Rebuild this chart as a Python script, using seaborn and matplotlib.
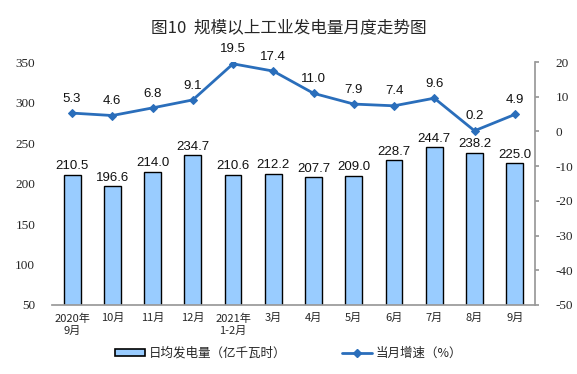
import matplotlib
matplotlib.use("Agg")
import matplotlib.pyplot as plt
import seaborn as sns
import numpy as np
import pandas as pd
from matplotlib.patches import Patch
from matplotlib.lines import Line2D

sns.set_theme(style="white")
plt.rcParams['font.family'] = ['Liberation Serif', 'Noto Sans CJK SC', 'DejaVu Sans']
plt.rcParams['axes.unicode_minus'] = False

categories = ["2020年\n9月", "10月", "11月", "12月", "2021年\n1-2月", "3月", "4月", "5月", "6月", "7月", "8月", "9月"]
output_daily = [210.5, 196.6, 214.0, 234.7, 210.6, 212.2, 207.7, 209.0, 228.7, 244.7, 238.2, 225.0]
growth = [5.3, 4.6, 6.8, 9.1, 19.5, 17.4, 11.0, 7.9, 7.4, 9.6, 0.2, 4.9]
title = "图10  规模以上工业发电量月度走势图"
bar_label = "日均发电量（亿千瓦时）"
line_label = "当月增速（%）"

df = pd.DataFrame({"cat": categories, "val": output_daily, "g": growth})

bar_color = "#99CCFF"
line_color = "#2A6EBB"
cjk = ['Noto Sans CJK SC', 'DejaVu Sans']
sans = ['Liberation Sans', 'DejaVu Sans']

fig = plt.figure(figsize=(5.77, 3.74), dpi=100)
ax = fig.add_axes([0.090, 0.1845, 0.837, 0.6495])
sns.barplot(data=df, x="cat", y="val", ax=ax, color=bar_color, edgecolor="black",
            linewidth=1.0, width=0.42, saturation=1)
ax.set_ylim(50, 350)
ax.set_yticks(range(50, 351, 50))
ax.set_xlim(-0.5, len(categories) - 0.5)
ax.set_xlabel("")
ax.set_ylabel("")
for i, v in enumerate(output_daily):
    ax.annotate(f"{v:.1f}", (i, v), xytext=(0, 2), textcoords="offset points",
                ha="center", va="bottom", fontsize=9.5, color="#111111", fontfamily=sans)

ax2 = ax.twinx()
sns.lineplot(x=np.arange(len(categories)), y=growth, ax=ax2, color=line_color,
             linewidth=2, marker="D", markersize=4, markeredgecolor=line_color)
ax2.set_ylim(-50, 20)
ax2.set_yticks(range(-50, 21, 10))
ax2.set_xlim(-0.5, len(categories) - 0.5)
for i, v in enumerate(growth):
    ax2.annotate(f"{v:.1f}", (i, v), xytext=(0, 6), textcoords="offset points",
                 ha="center", va="bottom", fontsize=9.5, color="#111111", fontfamily=sans)

# ticks and spines
ax.set_xticks(range(len(categories)))
ax.set_xticklabels(categories, fontfamily=cjk, fontsize=8, linespacing=1.3)
ax.tick_params(axis="x", which="major", length=0, pad=6)
ax.set_xticks(np.arange(-0.5, len(categories), 1), minor=True)
ax.tick_params(axis="x", which="minor", length=3, color="#999999", direction="out")
ax.tick_params(axis="y", length=0, labelsize=9.5, pad=12)
ax2.tick_params(axis="y", length=3, color="#999999", labelsize=9.5, pad=12, direction="out")
for a in (ax, ax2):
    a.spines["top"].set_visible(False)
    a.spines["left"].set_visible(False)
    a.spines["bottom"].set_color("#999999")
    a.spines["right"].set_color("#999999")
ax2.spines["bottom"].set_visible(False)
ax.spines["right"].set_visible(False)
ax2.set_ylabel("")
ax.grid(False)
ax2.grid(False)

fig.text(0.5, 0.925, title, ha="center", va="center", fontsize=12,
         fontfamily=cjk)

handles = [Patch(facecolor=bar_color, edgecolor="black", linewidth=1.2, label=bar_label),
           Line2D([0], [0], color=line_color, linewidth=2, marker="D", markersize=4,
                  label=line_label)]
fig.legend(handles=handles, loc="center", bbox_to_anchor=(0.5, 0.055), ncol=2,
           frameon=False, prop={"family": cjk, "size": 9}, handlelength=2.4,
           handleheight=0.5, columnspacing=4.5, handletextpad=0.3)

fig.savefig("out.png", dpi=100)
